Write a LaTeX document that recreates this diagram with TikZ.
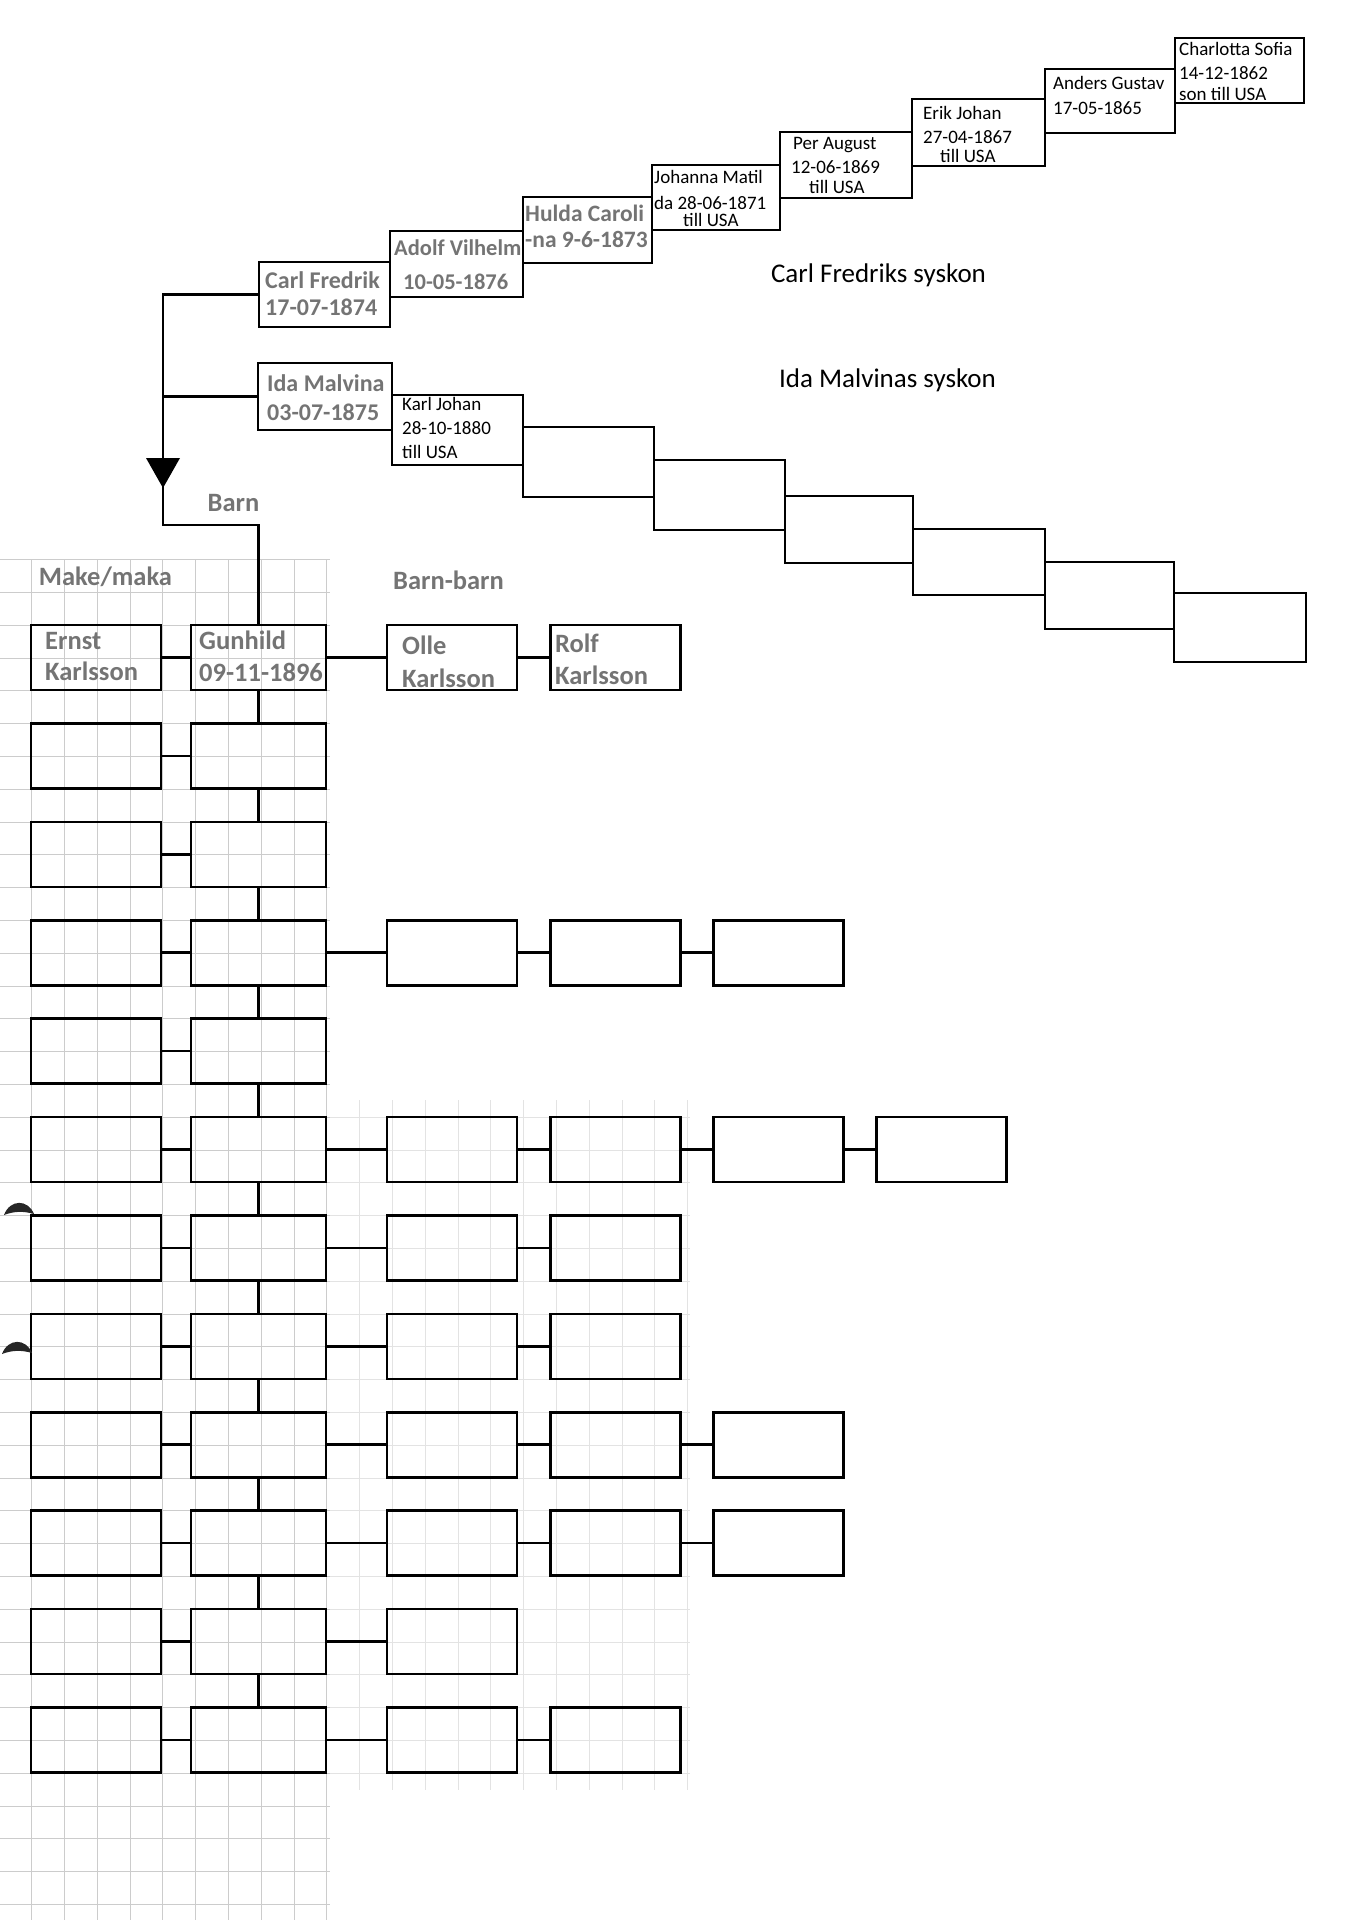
\documentclass[tikz,border=0pt]{standalone}
\usepackage{fontspec}
\setmainfont{Carlito}
\definecolor{skugga}{HTML}{747474}

\begin{document}
\begin{tikzpicture}[x=1pt, y=-1pt,
        ruta/.style 2 args={draw, line width=2.6pt, minimum width=#1, minimum height=#2, inner sep=0pt},
        linje/.style={line width=2.6pt},
        rutnat/.style={gray!40, line width=0.6pt},
        gratext/.style={text=skugga, inner sep=0pt, anchor=west, align=left},
        svarttext/.style={inner sep=0pt, anchor=west, align=left, font=\fontsize{19}{24}\selectfont},
        rubrik/.style={inner sep=0pt, font=\fontsize{27}{32}\selectfont}]
        \useasboundingbox (0,0) rectangle (1358,1920);
        % rutat papper
        \foreach \k in {0,...,9} \draw[rutnat] ({31.5+32.8*\k},560) -- ({31.5+32.8*\k},1920);
        \foreach \m in {-2,...,39} \draw[rutnat] (0,{625+32.8*\m}) -- (330,{625+32.8*\m});
        \foreach \k in {10,...,20} \draw[rutnat, gray!22] ({31.5+32.8*\k},1100) -- ({31.5+32.8*\k},1790);
        \foreach \m in {15,...,35} \draw[rutnat, gray!22] (330,{625+32.8*\m}) -- (690,{625+32.8*\m});

        % Carl Fredriks syskon
        \node[ruta={131}{65}] (cf) at (324.5,294.5) {};
        \node[ruta={133}{66}] (av) at (456.5,264) {};
        \node[ruta={129}{66}] (hc) at (587.5,230) {};
        \node[ruta={128}{65}] (jm) at (716,197.5) {};
        \node[ruta={132}{66}] (pa) at (846,165) {};
        \node[ruta={133}{67}] (ej) at (978.5,132.5) {};
        \node[ruta={130}{64}] (ag) at (1110,101) {};
        \node[ruta={129}{65}] (cs) at (1239.5,70.5) {};
        \node[gratext, font=\fontsize{24}{27}\selectfont\bfseries] (t-cf) at (265,293.5) {Carl Fredrik\\17-07-1874};
        \node[gratext, font=\fontsize{22.5}{34}\selectfont\bfseries] (t-av) at (394,265) {Adolf Vilhelm\\\hspace*{9pt}10-05-1876};
        \node[gratext, font=\fontsize{23.5}{26}\selectfont\bfseries] (t-hc) at (525,226) {Hulda Caroli\\-na 9-6-1873};
        \node[svarttext] (t-jm) at (654,198.5) {Johanna Matil\\[2pt]da 28-06-1871\\[-7pt]\hspace*{29pt}till USA};
        \node[svarttext] (t-pa) at (791,165) {\hspace*{2pt}Per August\\12-06-1869\\[-4pt]\hspace*{18pt}till USA};
        \node[svarttext] (t-ej) at (923,134.5) {Erik Johan\\27-04-1867\\[-5pt]\hspace*{17pt}till USA};
        \node[svarttext, font=\fontsize{19}{25}\selectfont] (t-ag) at (1053,95.5) {Anders Gustav\\17-05-1865};
        \node[svarttext] (t-cs) at (1179,71.5) {Charlotta Sofia\\14-12-1862\\[-3pt]son till USA};
        \node[rubrik] (l-cf) at (878.5,275) {Carl Fredriks syskon};

        % Ida Malvinas syskon
        \node[ruta={134}{67}] (im) at (325,396.5) {};
        \node[ruta={131}{70}] (kj) at (457.5,430) {};
        \node[ruta={131}{70}] (is2) at (588.5,462) {};
        \node[ruta={131}{70}] (is3) at (719.5,495) {};
        \node[ruta={128}{67}] (is4) at (849,529.5) {};
        \node[ruta={132}{66}] (is5) at (979,562) {};
        \node[ruta={129}{67}] (is6) at (1109.5,595.5) {};
        \node[ruta={132}{69}] (is7) at (1240,627.5) {};
        \node[gratext, font=\fontsize{24}{29}\selectfont\bfseries] (t-im) at (267,397.5) {Ida Malvina\\03-07-1875};
        \node[svarttext] (t-kj) at (402,428) {Karl Johan\\28-10-1880\\till USA};
        \node[rubrik] (l-im) at (887.5,380) {Ida Malvinas syskon};

        % stamlinje ned till barnen
        \coordinate (knae) at (163,525);
        \coordinate (pil) at (163,458);
        \foreach \r in {1,...,12} {
            \pgfmathsetmacro{\yc}{657.5+98.4*(\r-1)}
            \node[ruta={130}{65}] (sp\r) at (96,\yc) {};
            \node[ruta={135}{65}] (ba\r) at (258.5,\yc) {};
            \draw[linje] (sp\r.east) -- (ba\r.west);
        }
        \foreach \r in {1,...,11} {
            \pgfmathtruncatemacro{\s}{\r+1}
            \draw[linje] (ba\r.south) -- (ba\s.north);
        }
        \foreach \r/\n in {1/2,4/3,6/4,7/2,8/2,9/3,10/3,11/1,12/2} {
            \pgfmathsetmacro{\yc}{657.5+98.4*(\r-1)}
            \foreach \k in {1,...,\n} {
                \node[ruta={130}{65}] (bb\r-\k) at ({452+163.2*(\k-1)},\yc) {};
                \ifnum\k>1
                    \pgfmathtruncatemacro{\p}{\k-1}
                    \draw[linje] (bb\r-\p.east) -- (bb\r-\k.west);
                \fi
            }
            \draw[linje] (ba\r.east) -- (bb\r-1.west);
        }
        \draw[linje] (cf.west) -| (knae) -| (ba1.north);
        \draw[linje] (im.west) -- (im.west -| knae);
        \fill (pil) ++(-17,0) -- ++(34,0) -- ++(-17,30) -- cycle;

        \node[rubrik, text=skugga, font=\fontsize{26.5}{32}\selectfont\bfseries] (l-barn) at (233.5,503) {Barn};
        \node[rubrik, text=skugga, font=\fontsize{26.5}{32}\selectfont\bfseries] (l-make) at (105.5,577) {Make/maka};
        \node[rubrik, text=skugga, font=\fontsize{26.5}{32}\selectfont\bfseries] (l-bb) at (448.5,580) {Barn-barn};
        \node[gratext, font=\fontsize{26.5}{31}\selectfont\bfseries] (t-er) at (45,656.5) {Ernst\\Karlsson};
        \node[gratext, font=\fontsize{26.5}{32}\selectfont\bfseries] (t-gu) at (199,656) {Gunhild\\09-11-1896};
        \node[gratext, font=\fontsize{26.5}{33}\selectfont\bfseries] (t-ol) at (402,661.5) {Olle\\Karlsson};
        \node[gratext, font=\fontsize{26.5}{32}\selectfont\bfseries] (t-ro) at (555,659) {Rolf\\Karlsson};

        % halslag i kanten
        \fill[black!85] (4,1215) .. controls (10,1199) and (28,1199) .. (34,1214) .. controls (24,1211) and (14,1211) .. (4,1215) -- cycle;
        \fill[black!85] (2,1354) .. controls (8,1338) and (26,1338) .. (32,1353) .. controls (22,1350) and (12,1350) .. (2,1354) -- cycle;
\end{tikzpicture}
\end{document}
